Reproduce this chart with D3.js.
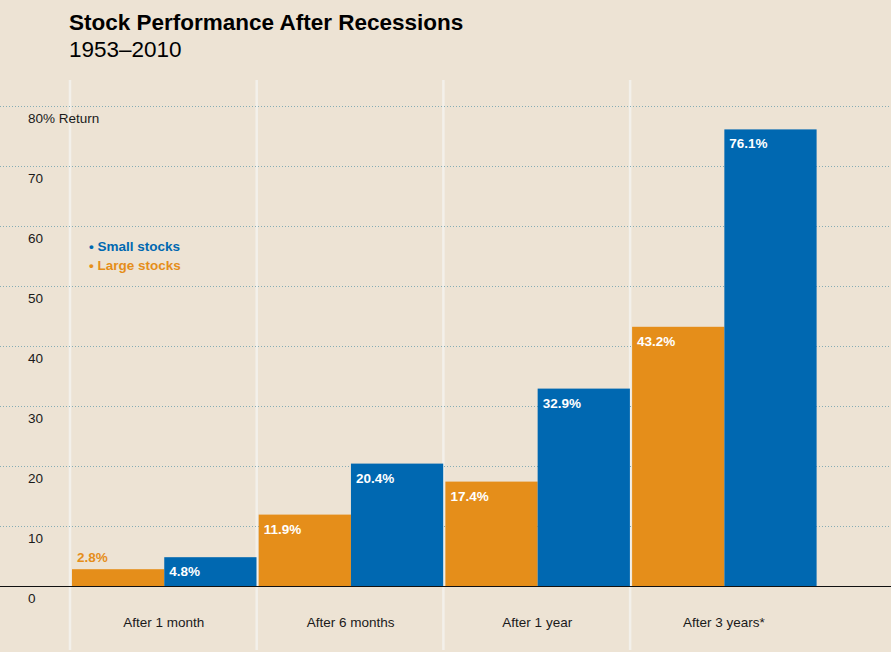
<!DOCTYPE html>
<html>
<head>
<meta charset="utf-8">
<script src="https://cdn.jsdelivr.net/npm/d3@7"></script>
<style>
  html, body { margin: 0; padding: 0; background: #ede3d4; }
  svg { display: block; font-family: "Liberation Sans", Arial, sans-serif; }
</style>
</head>
<body>
<div id="chart"></div>
<script>
// chart data
const categories = ["After 1 month", "After 6 months", "After 1 year", "After 3 years*"];
const largeStocks = [2.8, 11.9, 17.4, 43.2];
const smallStocks = [4.8, 20.4, 32.9, 76.1];
const yTicks = [0, 10, 20, 30, 40, 50, 60, 70, 80];

const width = 891, height = 652;
const colors = { large: "#e58e1a", small: "#0068b1" };

const svg = d3.select("#chart")
    .append("svg")
    .attr("width", width)
    .attr("height", height);

svg.append("rect")
    .attr("width", width)
    .attr("height", height)
    .attr("fill", "#ede3d4");

// scales
const yScale = d3.scaleLinear()
    .domain([0, 80])
    .range([586, 106]);

const x0 = d3.scaleBand()
    .domain(categories)
    .range([70.5, 70.5 + 186.7 * 4]);

const x1 = d3.scaleBand()
    .domain(["large", "small"])
    .range([1.5, 186]);

// vertical separators
svg.append("g")
    .selectAll("line")
    .data(categories)
    .enter()
    .append("line")
    .attr("x1", d => x0(d) - 0.5)
    .attr("x2", d => x0(d) - 0.5)
    .attr("y1", 80)
    .attr("y2", 650)
    .attr("stroke", "#f3f0ea")
    .attr("stroke-width", 2.5);

// dotted gridlines
svg.append("g")
    .selectAll("line")
    .data(yTicks.filter(d => d > 0))
    .enter()
    .append("line")
    .attr("x1", 0)
    .attr("x2", width)
    .attr("y1", d => yScale(d) + 0.5)
    .attr("y2", d => yScale(d) + 0.5)
    .attr("stroke", "#86adb5")
    .attr("stroke-width", 1)
    .attr("stroke-dasharray", "1,2");

// tick labels
svg.append("g")
    .selectAll("text")
    .data(yTicks)
    .enter()
    .append("text")
    .attr("x", 28)
    .attr("y", d => yScale(d) + 17)
    .attr("font-size", "13.5px")
    .attr("fill", "#1a1a1a")
    .text(d => d === 80 ? "80% Return" : d);

// bars
const rows = categories.map((c, i) => [
    { cat: c, key: "large", v: largeStocks[i] },
    { cat: c, key: "small", v: smallStocks[i] }
]).flat();

svg.append("g")
    .selectAll("rect")
    .data(rows)
    .enter()
    .append("rect")
    .attr("x", d => x0(d.cat) + x1(d.key))
    .attr("y", d => yScale(d.v))
    .attr("width", x1.bandwidth())
    .attr("height", d => yScale(0) - yScale(d.v))
    .attr("fill", d => colors[d.key]);

// value labels
svg.append("g")
    .selectAll("text")
    .data(rows)
    .enter()
    .append("text")
    .attr("x", d => x0(d.cat) + x1(d.key) + 5)
    .attr("y", d => d.v < 4 ? yScale(d.v) - 7 : yScale(d.v) + 19)
    .attr("font-size", "13.5px")
    .attr("font-weight", "bold")
    .attr("fill", d => d.v < 4 ? colors[d.key] : "#ffffff")
    .text(d => d.v.toFixed(1) + "%");

// baseline
svg.append("line")
    .attr("x1", 0)
    .attr("x2", width)
    .attr("y1", yScale(0) + 0.5)
    .attr("y2", yScale(0) + 0.5)
    .attr("stroke", "#111")
    .attr("stroke-width", 1.2);

// category labels
svg.append("g")
    .selectAll("text")
    .data(categories)
    .enter()
    .append("text")
    .attr("x", d => x0(d) + x0.bandwidth() / 2)
    .attr("y", 627)
    .attr("text-anchor", "middle")
    .attr("font-size", "13.5px")
    .attr("fill", "#1a1a1a")
    .text(d => d);

// legend
const legend = [
    { label: "Small stocks", color: colors.small },
    { label: "Large stocks", color: colors.large }
];
legend.forEach((d, i) => {
    svg.append("text")
        .attr("x", 89)
        .attr("y", 251 + i * 19)
        .attr("font-size", "13.5px")
        .attr("font-weight", "bold")
        .attr("fill", d.color)
        .text("\u2022 " + d.label);
});

// title
svg.append("text")
    .attr("x", 69)
    .attr("y", 30)
    .attr("font-size", "22.5px")
    .attr("font-weight", "bold")
    .attr("fill", "#000")
    .text("Stock Performance After Recessions");

svg.append("text")
    .attr("x", 69)
    .attr("y", 57)
    .attr("font-size", "22.5px")
    .attr("fill", "#000")
    .text("1953\u20132010");
</script>
</body>
</html>
